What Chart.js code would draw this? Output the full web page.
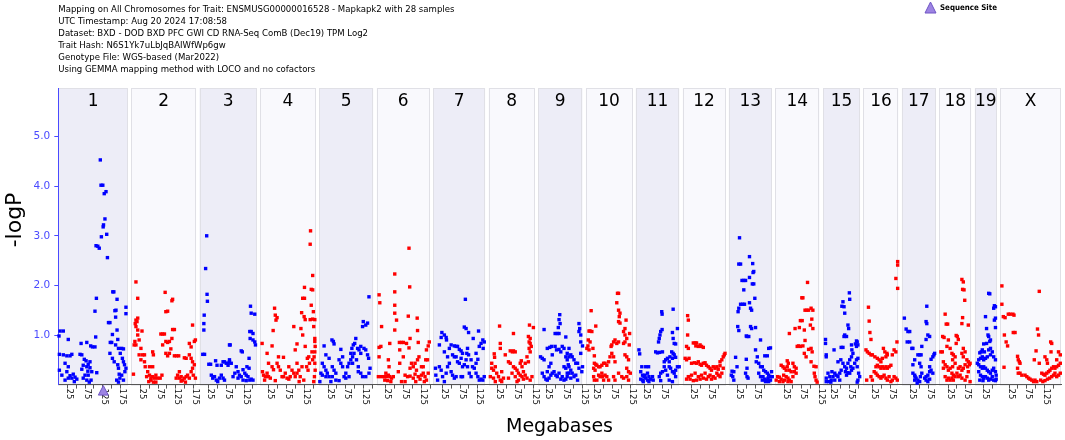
<!DOCTYPE html>
<html>
<head>
<meta charset="utf-8">
<script src="https://cdn.jsdelivr.net/npm/chart.js@4.4.1/dist/chart.umd.min.js"></script>
<style>
html,body{margin:0;padding:0;background:#fff;}
#c{display:block;}
</style>
</head>
<body>
<canvas id="c" width="1065" height="440" style="width:1065px;height:440px"></canvas>
<script>
// ---------------- DATA ----------------
const titleLines = [
  'Mapping on All Chromosomes for Trait: ENSMUSG00000016528 - Mapkapk2 with 28 samples',
  'UTC Timestamp: Aug 20 2024 17:08:58',
  'Dataset: BXD - DOD BXD PFC GWI CD RNA-Seq ComB (Dec19) TPM Log2',
  'Trait Hash: N6S1Yk7uLbJqBAIWfWp6gw',
  'Genotype File: WGS-based (Mar2022)',
  'Using GEMMA mapping method with LOCO and no cofactors'
];
const legendLabel = 'Sequence Site';
const chrNames = ['1','2','3','4','5','6','7','8','9','10','11','12','13','14','15','16','17','18','19','X'];
const chrLengthsMb = [195.47,182.11,160.04,156.51,151.83,149.74,145.44,129.40,124.60,130.69,122.08,120.13,120.42,124.90,104.04,98.21,94.99,90.70,61.43,171.03];
const tickStepMb = 25;
const labelledTicksMb = [25,75,125,175];
const yTickValues = [1,2,3,4,5];
const seqSiteChr = 0;
const seqSiteMb = 126.5;

// [position in Mb, -logP]
const chr1 = [[118,4.53],[120,4.02],[125,4.02],[129,3.85],[134,3.89],[131,3.34],[127,3.22],[126,3.18],[121,2.98],[136,3.03],[106,2.80],[111,2.79],[115,2.75],[138,2.56],[107,1.74],[103,1.48],[105,0.96],[153,1.87],[156,1.87],[165,1.72],[159,1.49],[162,1.50],[161,1.36],[141,1.25],[145,1.25],[190,1.56],[190,1.43],[165,1.10],[152,1.01],[146,0.85],[150,0.85],[167,0.91],[161,0.80],[169,0.73],[178,0.73],[183,0.72],[145,0.63],[152,0.53],[174,0.63],[180,0.53],[183,0.46],[186,0.40],[167,0.40],[169,0.33],[171,0.21],[173,0.13],[178,0.19],[183,0.09],[187,0.26],[190,0.33],[164,0.09],[169,0.05],[157,0.46],[2,0.98],[5,1.08],[14,1.08],[28,0.91],[3,0.61],[14,0.60],[24,0.58],[33,0.58],[38,0.61],[19,0.43],[28,0.36],[3,0.29],[24,0.26],[33,0.18],[42,0.21],[47,0.15],[52,0.11],[28,0.13],[10,0.19],[19,0.09],[38,0.13],[45,0.06],[64,0.83],[80,0.85],[91,0.78],[96,0.76],[103,0.76],[61,0.61],[66,0.60],[73,0.51],[78,0.48],[84,0.41],[89,0.46],[70,0.39],[80,0.36],[89,0.34],[83,0.27],[75,0.19],[84,0.19],[94,0.26],[92,0.09],[70,0.13],[80,0.09],[108,0.24],[87,0.05],[66,0.31]];
const chr2 = [[13,2.07],[18,1.74],[13,1.30],[16,1.27],[18,1.34],[11,1.23],[13,1.17],[18,1.10],[30,1.08],[8,0.80],[13,0.80],[18,1.00],[22,0.90],[10,0.87],[27,0.73],[32,0.60],[37,0.60],[27,0.50],[37,0.46],[6,0.21],[22,0.60],[39,0.36],[51,0.36],[60,0.36],[46,0.26],[51,0.19],[55,0.13],[60,0.16],[65,0.13],[69,0.19],[74,0.13],[49,0.06],[55,0.09],[62,0.05],[69,0.05],[43,0.16],[60,0.66],[62,0.60],[95,1.86],[97,1.47],[102,1.48],[114,1.69],[116,1.72],[83,1.02],[88,1.02],[93,1.02],[116,1.11],[121,1.11],[114,0.93],[97,0.87],[102,0.85],[107,0.87],[111,0.72],[107,0.63],[97,0.63],[102,0.58],[121,0.58],[127,0.58],[133,0.58],[149,0.54],[154,0.53],[135,0.26],[126,0.13],[130,0.19],[135,0.13],[140,0.16],[144,0.09],[149,0.13],[154,0.16],[140,0.07],[152,0.05],[172,1.20],[180,0.90],[177,0.87],[163,0.83],[168,0.76],[163,0.60],[168,0.53],[172,0.46],[177,0.40],[172,0.33],[168,0.26],[174,0.19],[180,0.13],[163,0.13],[158,0.19],[88,0.80],[81,0.13],[86,0.19]];
const chr3 = [[20,3.00],[17,2.34],[21,1.82],[22,1.68],[13,1.40],[12,1.23],[12,1.10],[9,0.61],[14,0.61],[26,0.41],[31,0.41],[33,0.19],[37,0.13],[42,0.16],[47,0.09],[51,0.06],[56,0.13],[61,0.19],[66,0.13],[70,0.09],[61,0.39],[66,0.46],[70,0.46],[75,0.43],[80,0.39],[84,0.46],[84,0.80],[45,0.48],[49,0.39],[143,1.58],[155,1.42],[145,1.44],[141,1.07],[145,1.07],[150,1.03],[142,0.93],[150,0.90],[155,0.86],[157,0.80],[86,0.80],[120,0.66],[117,0.68],[89,0.43],[80,0.43],[139,0.53],[103,0.36],[108,0.26],[112,0.19],[117,0.16],[122,0.30],[127,0.23],[131,0.19],[136,0.16],[108,0.13],[122,0.09],[131,0.08],[141,0.09],[145,0.11],[150,0.09],[99,0.23],[94,0.16],[84,0.50],[133,0.36],[139,0.33]];
const chr4 = [[142,3.10],[141,2.83],[148,2.20],[125,1.96],[144,1.92],[148,1.91],[120,1.74],[125,1.74],[144,1.60],[117,1.45],[124,1.37],[127,1.31],[141,1.31],[148,1.32],[154,1.31],[150,1.47],[151,1.17],[95,1.17],[115,1.13],[120,1.00],[104,0.82],[99,0.70],[127,0.77],[154,0.93],[154,0.87],[155,0.77],[154,0.66],[152,0.56],[154,0.43],[155,0.29],[153,0.16],[151,0.06],[133,0.53],[137,0.56],[131,0.36],[135,0.29],[139,0.43],[146,0.66],[148,0.50],[41,1.54],[43,1.40],[45,1.30],[48,1.35],[37,1.09],[34,0.78],[20,0.63],[6,0.83],[24,0.43],[34,0.36],[38,0.30],[48,0.43],[52,0.36],[57,0.29],[62,0.16],[66,0.16],[71,0.23],[76,0.13],[81,0.11],[85,0.16],[90,0.29],[95,0.23],[99,0.16],[104,0.23],[109,0.29],[113,0.16],[7,0.26],[10,0.19],[15,0.16],[20,0.23],[24,0.16],[29,0.13],[52,0.56],[66,0.55],[81,0.36],[104,0.43],[13,0.09],[43,0.08],[118,0.36],[123,0.09],[110,0.06]];
const chr5 = [[14,0.78],[36,0.90],[40,0.87],[42,0.82],[61,0.71],[19,0.60],[28,0.53],[9,0.43],[14,0.36],[19,0.29],[23,0.23],[28,0.16],[19,0.16],[9,0.19],[5,0.23],[37,0.36],[42,0.29],[47,0.23],[37,0.16],[47,0.09],[56,0.50],[61,0.43],[66,0.36],[70,0.16],[75,0.23],[80,0.36],[84,0.43],[89,0.50],[94,0.56],[98,0.63],[89,0.63],[92,0.73],[96,0.80],[103,0.93],[100,0.83],[108,0.73],[112,0.70],[117,0.63],[117,0.77],[122,1.17],[124,1.27],[131,1.20],[136,1.24],[140,1.77],[126,0.73],[131,0.70],[136,0.60],[139,0.53],[143,0.33],[140,0.23],[131,0.16],[122,0.16],[117,0.23],[110,0.26],[94,0.43],[84,0.16],[75,0.13],[2,0.06],[33,0.06],[56,0.08],[66,0.56],[105,0.50],[110,0.36]];
const chr6 = [[7,1.81],[9,1.65],[14,1.17],[12,0.77],[7,0.75],[7,0.56],[37,0.83],[33,0.50],[35,0.36],[26,0.23],[22,0.16],[28,0.16],[33,0.19],[37,0.16],[42,0.13],[47,0.16],[5,0.16],[14,0.16],[23,0.09],[31,0.08],[40,0.06],[51,2.23],[51,1.87],[51,1.60],[51,1.44],[56,1.30],[51,1.10],[91,2.75],[93,1.97],[89,1.38],[114,1.34],[115,1.09],[94,0.93],[91,0.74],[84,0.83],[75,0.85],[70,0.85],[64,0.85],[65,0.70],[117,0.85],[148,0.86],[145,0.78],[140,0.70],[119,0.56],[115,0.50],[108,0.43],[103,0.36],[98,0.43],[94,0.33],[87,0.16],[80,0.19],[75,0.56],[65,0.43],[61,0.26],[80,0.06],[94,0.17],[103,0.13],[108,0.21],[112,0.29],[117,0.16],[122,0.11],[126,0.19],[131,0.23],[136,0.16],[140,0.09],[145,0.23],[138,0.50],[143,0.50],[131,0.36],[126,0.36],[70,0.06],[110,0.06],[134,0.06]];
const chr7 = [[90,1.72],[87,1.16],[92,1.13],[24,1.05],[31,1.00],[22,0.95],[36,0.95],[37,0.90],[127,1.08],[99,1.05],[112,0.93],[139,0.90],[143,0.86],[140,0.73],[134,0.83],[129,0.77],[64,0.77],[68,0.77],[59,0.78],[73,0.71],[78,0.68],[45,0.73],[50,0.80],[17,0.80],[31,0.66],[40,0.56],[54,0.60],[59,0.56],[64,0.56],[68,0.46],[73,0.43],[78,0.53],[82,0.36],[87,0.40],[92,0.50],[96,0.36],[101,0.23],[106,0.16],[110,0.36],[115,0.33],[120,0.23],[125,0.16],[129,0.09],[134,0.11],[120,0.43],[125,0.51],[106,0.50],[99,0.60],[94,0.63],[82,0.63],[96,0.73],[120,0.63],[6,0.33],[7,0.19],[12,0.09],[17,0.36],[22,0.29],[26,0.16],[36,0.23],[40,0.36],[45,0.43],[50,0.26],[54,0.19],[59,0.13],[64,0.16],[78,0.16],[82,0.16],[31,0.06],[139,0.09],[143,0.16]];
const chr8 = [[31,1.18],[70,1.03],[67,0.66],[47,0.60],[61,0.68],[70,0.68],[75,0.66],[16,0.62],[17,0.55],[33,0.83],[33,0.73],[115,1.20],[126,1.15],[112,0.97],[117,0.93],[114,0.86],[117,0.83],[120,0.77],[114,0.73],[117,0.66],[108,0.56],[112,0.46],[56,0.46],[61,0.43],[9,0.43],[9,0.33],[14,0.29],[19,0.36],[23,0.23],[28,0.16],[33,0.09],[37,0.06],[42,0.13],[37,0.26],[5,0.16],[14,0.13],[19,0.06],[70,0.36],[75,0.33],[80,0.29],[84,0.23],[89,0.19],[94,0.16],[98,0.11],[75,0.16],[80,0.06],[84,0.09],[89,0.43],[94,0.36],[98,0.26],[103,0.19],[108,0.13],[117,0.09],[122,0.16],[92,0.48],[103,0.43],[66,0.23],[56,0.13]];
const chr9 = [[17,1.11],[7,0.56],[12,0.53],[17,0.50],[26,0.73],[33,0.75],[38,0.77],[40,0.60],[36,0.43],[31,0.36],[26,0.26],[48,1.03],[54,1.03],[59,1.03],[57,1.15],[62,1.23],[59,1.31],[61,1.41],[48,0.77],[52,0.70],[59,0.71],[64,0.66],[68,0.77],[73,0.73],[78,0.56],[82,0.50],[87,0.56],[85,0.40],[78,0.33],[73,0.36],[12,0.23],[17,0.16],[22,0.11],[26,0.09],[31,0.13],[36,0.19],[40,0.23],[45,0.26],[50,0.19],[54,0.16],[59,0.23],[64,0.11],[68,0.16],[73,0.09],[78,0.11],[82,0.16],[87,0.23],[115,1.23],[117,1.13],[120,1.00],[115,1.07],[120,0.86],[125,0.78],[120,0.63],[111,0.43],[115,0.33],[125,0.36],[123,0.26],[87,0.73],[82,0.63],[92,0.60],[96,0.56],[101,0.50],[106,0.43],[87,0.36],[92,0.29],[96,0.23],[101,0.16],[106,0.19],[111,0.09],[82,0.23],[92,0.13],[78,0.96]];
const chr10 = [[15,1.49],[28,1.18],[9,1.08],[12,1.08],[17,1.07],[7,0.90],[12,0.86],[6,0.78],[3,0.73],[9,0.70],[20,0.73],[24,0.58],[24,0.43],[28,0.41],[31,0.39],[36,0.36],[40,0.36],[45,0.39],[50,0.43],[54,0.43],[59,0.39],[64,0.46],[22,0.33],[26,0.29],[36,0.19],[40,0.16],[45,0.23],[47,0.16],[22,0.16],[24,0.09],[31,0.09],[54,0.19],[59,0.16],[64,0.09],[50,0.09],[89,1.84],[92,1.84],[87,1.65],[92,1.50],[96,1.44],[94,1.37],[113,1.30],[110,1.13],[92,1.27],[96,1.24],[106,1.07],[110,1.00],[115,0.93],[82,0.90],[78,0.86],[87,0.83],[92,0.86],[106,0.83],[110,0.86],[73,0.80],[71,0.77],[73,0.63],[78,0.56],[68,0.56],[82,0.46],[110,0.60],[115,0.56],[120,0.50],[92,0.23],[115,0.33],[120,0.26],[125,0.23],[115,0.16],[120,0.09],[106,0.13],[123,1.03],[122,0.80],[78,0.16],[82,0.09],[101,0.16]];
const chr11 = [[9,0.70],[11,0.62],[17,0.36],[28,0.36],[36,0.36],[14,0.26],[19,0.19],[23,0.16],[28,0.13],[33,0.09],[37,0.16],[42,0.11],[47,0.16],[19,0.09],[33,0.23],[26,0.19],[14,0.11],[21,0.06],[37,0.06],[49,0.09],[73,1.47],[74,1.42],[105,1.52],[74,1.11],[70,1.07],[68,1.00],[66,0.93],[64,0.86],[56,0.66],[61,0.64],[67,0.65],[75,0.66],[103,1.05],[105,0.93],[117,1.13],[108,0.83],[112,0.82],[101,0.66],[105,0.63],[108,0.60],[112,0.55],[103,0.53],[96,0.56],[89,0.53],[84,0.50],[80,0.46],[94,0.46],[80,0.36],[84,0.29],[94,0.36],[98,0.33],[103,0.26],[108,0.23],[112,0.29],[117,0.36],[122,0.36],[89,0.19],[75,0.26],[70,0.23],[66,0.16],[94,0.09],[103,0.06],[112,0.16],[70,0.08]];
const chr12 = [[14,1.39],[16,1.30],[14,1.00],[11,0.77],[16,0.73],[30,0.84],[35,0.84],[39,0.84],[37,0.78],[44,0.77],[49,0.80],[53,0.77],[58,0.75],[7,0.53],[11,0.50],[18,0.53],[25,0.43],[33,0.44],[39,0.43],[44,0.46],[49,0.41],[53,0.39],[58,0.43],[63,0.44],[67,0.39],[72,0.36],[77,0.33],[81,0.29],[86,0.36],[91,0.33],[96,0.36],[100,0.31],[105,0.38],[110,0.50],[114,0.56],[119,0.63],[117,0.60],[105,0.46],[96,0.23],[100,0.19],[86,0.16],[81,0.11],[72,0.16],[63,0.23],[53,0.19],[44,0.16],[35,0.23],[25,0.19],[16,0.16],[11,0.11],[21,0.11],[30,0.08],[39,0.09],[49,0.11],[58,0.13],[67,0.11],[77,0.19],[91,0.13],[105,0.16],[110,0.23],[114,0.33]];
const chr13 = [[30,2.96],[28,2.43],[33,2.43],[58,2.58],[67,2.44],[70,2.28],[68,2.26],[58,2.16],[37,2.10],[42,2.10],[47,2.10],[66,2.03],[70,2.03],[42,1.91],[73,1.74],[33,1.62],[39,1.62],[44,1.62],[58,1.65],[28,1.54],[26,1.47],[64,1.50],[61,1.54],[25,1.17],[28,1.09],[61,1.17],[64,1.13],[75,1.15],[49,0.98],[51,0.97],[56,0.97],[89,0.90],[117,0.74],[75,0.70],[80,0.56],[77,0.46],[101,0.58],[108,0.58],[112,0.73],[84,0.43],[89,0.36],[94,0.36],[98,0.29],[103,0.26],[108,0.23],[112,0.19],[117,0.16],[96,0.16],[101,0.11],[108,0.09],[112,0.06],[117,0.09],[122,0.16],[120,0.26],[84,0.23],[89,0.16],[94,0.09],[103,0.06],[110,0.13],[19,0.55],[23,0.36],[9,0.27],[14,0.26],[7,0.19],[11,0.16],[14,0.09],[49,0.51],[51,0.33],[47,0.23],[51,0.16],[54,0.13]];
const chr14 = [[91,2.06],[75,1.75],[78,1.75],[84,1.50],[89,1.50],[94,1.50],[101,1.54],[106,1.50],[103,1.32],[71,1.29],[76,1.29],[56,1.13],[40,1.03],[68,1.15],[82,1.10],[99,1.20],[106,1.13],[84,0.89],[62,0.77],[66,0.78],[71,0.77],[78,0.78],[94,0.71],[101,0.73],[104,0.66],[82,0.63],[87,0.56],[101,0.46],[109,0.37],[115,0.36],[110,0.23],[112,0.16],[115,0.09],[118,0.05],[34,0.48],[37,0.43],[34,0.36],[50,0.43],[54,0.36],[59,0.33],[40,0.29],[45,0.26],[54,0.26],[59,0.23],[17,0.39],[22,0.36],[26,0.33],[31,0.29],[24,0.19],[31,0.16],[36,0.13],[40,0.09],[45,0.06],[50,0.16],[7,0.16],[12,0.15],[17,0.11],[22,0.06],[3,0.09],[12,0.06],[26,0.09],[36,0.06]];
const chr15 = [[74,1.85],[75,1.72],[56,1.67],[53,1.58],[59,1.57],[61,1.44],[70,1.20],[72,1.13],[61,1.00],[59,0.97],[66,0.97],[51,0.75],[56,0.75],[7,0.91],[7,0.83],[31,0.70],[9,0.60],[9,0.56],[42,0.46],[50,0.50],[94,0.88],[96,0.86],[98,0.80],[94,0.77],[91,0.82],[80,0.80],[81,0.70],[84,0.63],[80,0.56],[75,0.50],[70,0.43],[78,0.36],[84,0.33],[80,0.29],[75,0.23],[89,0.43],[94,0.50],[98,0.53],[96,0.36],[100,0.23],[103,0.16],[98,0.09],[96,0.05],[14,0.23],[19,0.16],[23,0.09],[16,0.06],[22,0.05],[28,0.16],[33,0.23],[37,0.19],[42,0.16],[47,0.23],[51,0.29],[47,0.09],[33,0.09],[25,0.26],[9,0.13],[9,0.06],[61,0.36],[66,0.33],[56,0.43],[70,0.24],[66,0.19],[63,0.26]];
const chr16 = [[14,1.56],[16,1.28],[18,1.05],[21,0.91],[7,0.70],[11,0.66],[16,0.63],[21,0.60],[25,0.60],[32,0.56],[39,0.53],[44,0.50],[49,0.46],[35,0.36],[39,0.39],[44,0.36],[49,0.33],[53,0.36],[58,0.33],[63,0.36],[67,0.33],[72,0.36],[77,0.39],[30,0.26],[35,0.23],[39,0.19],[44,0.16],[49,0.13],[53,0.16],[58,0.19],[63,0.13],[67,0.09],[72,0.16],[77,0.06],[81,0.09],[86,0.16],[91,0.13],[95,0.09],[56,0.73],[60,0.66],[66,0.63],[63,0.56],[53,0.53],[67,0.60],[86,0.70],[91,0.66],[81,0.60],[94,0.86],[96,2.48],[96,2.41],[91,2.14],[96,1.94],[9,0.09],[21,0.16],[25,0.09]];
const chr17 = [[7,1.34],[12,1.12],[17,1.07],[22,1.07],[15,0.86],[22,0.86],[28,0.73],[31,0.73],[70,1.58],[68,1.27],[70,1.23],[73,1.00],[78,0.97],[68,0.91],[56,0.77],[50,0.60],[54,0.60],[45,0.60],[92,0.63],[90,0.60],[87,0.56],[82,0.51],[50,0.43],[54,0.36],[36,0.50],[31,0.40],[78,0.36],[82,0.29],[87,0.23],[78,0.26],[73,0.19],[68,0.16],[64,0.13],[68,0.09],[73,0.06],[78,0.11],[36,0.19],[37,0.16],[40,0.13],[45,0.09],[50,0.06],[43,0.03],[31,0.23],[36,0.09],[52,0.16],[56,0.23]];
const chr18 = [[64,2.12],[68,2.07],[66,1.92],[70,1.91],[72,1.70],[17,1.42],[20,1.22],[24,1.22],[66,1.35],[82,1.20],[64,1.23],[10,0.97],[14,0.95],[48,0.99],[51,0.97],[54,0.91],[48,0.83],[5,0.66],[9,0.66],[26,0.90],[22,0.77],[31,0.73],[36,0.63],[40,0.60],[45,0.56],[38,0.50],[45,0.43],[38,0.36],[68,0.73],[73,0.66],[64,0.63],[68,0.56],[78,0.50],[82,0.46],[85,0.40],[80,0.36],[87,0.43],[12,0.46],[17,0.40],[12,0.33],[22,0.36],[26,0.29],[31,0.33],[36,0.23],[40,0.19],[45,0.16],[54,0.33],[59,0.36],[64,0.29],[68,0.33],[73,0.40],[50,0.23],[54,0.16],[59,0.19],[64,0.13],[31,0.09],[36,0.13],[40,0.09],[26,0.13],[17,0.16],[22,0.09],[78,0.16],[82,0.26],[87,0.06],[73,0.09]];
const chr19 = [[39,1.84],[42,1.83],[55,1.59],[58,1.57],[53,1.54],[30,1.37],[58,1.34],[55,1.30],[58,1.15],[33,1.13],[37,1.00],[39,0.97],[44,0.90],[42,0.87],[33,0.83],[25,0.82],[21,0.70],[18,0.66],[14,0.64],[27,0.66],[39,0.70],[44,0.73],[49,0.66],[11,0.50],[16,0.53],[21,0.56],[25,0.50],[30,0.53],[35,0.56],[44,0.60],[53,0.56],[58,0.50],[7,0.43],[11,0.40],[16,0.36],[21,0.33],[25,0.36],[30,0.33],[35,0.29],[39,0.26],[44,0.23],[49,0.29],[53,0.33],[58,0.26],[60,0.19],[11,0.26],[16,0.19],[21,0.16],[25,0.13],[30,0.16],[35,0.13],[39,0.09],[44,0.11],[49,0.16],[53,0.09],[58,0.08],[60,0.11],[14,0.09],[23,0.08]];
const chrX = [[5,1.99],[5,1.62],[9,1.37],[14,1.35],[23,1.42],[28,1.42],[36,1.42],[39,1.40],[12,1.00],[17,0.86],[21,0.78],[11,0.35],[37,1.05],[42,1.05],[49,0.57],[51,0.50],[54,0.46],[56,0.43],[49,0.33],[51,0.23],[56,0.23],[61,0.19],[70,0.19],[75,0.16],[80,0.13],[84,0.11],[89,0.09],[94,0.06],[98,0.09],[103,0.06],[110,1.88],[105,1.12],[108,1.00],[101,0.68],[96,0.50],[110,0.43],[126,0.56],[131,0.50],[133,0.43],[117,0.23],[122,0.21],[126,0.19],[131,0.23],[136,0.26],[140,0.29],[145,0.33],[150,0.36],[154,0.33],[159,0.36],[164,0.39],[169,0.43],[114,0.09],[120,0.06],[126,0.08],[133,0.11],[139,0.13],[145,0.16],[150,0.19],[154,0.23],[159,0.16],[164,0.19],[169,0.23],[142,0.86],[145,0.83],[143,0.66],[164,0.66],[169,0.60],[159,0.50]];

const chrPoints = [chr1,chr2,chr3,chr4,chr5,chr6,chr7,chr8,chr9,chr10,chr11,chr12,chr13,chr14,chr15,chr16,chr17,chr18,chr19,chrX];

// ---------------- LAYOUT / STYLE ----------------
const GAP_MB = 9.6;
const chrOffsets = [];
{ let acc = 0; chrLengthsMb.forEach(l => { chrOffsets.push(acc); acc += l + GAP_MB; }); }
const totalMb = chrOffsets[chrOffsets.length-1] + chrLengthsMb[chrLengthsMb.length-1];

const xTicks = [];
const xLabelTicks = [];
chrLengthsMb.forEach((len, i) => {
  for (let v = tickStepMb; v <= len + 0.5; v += tickStepMb) {
    xTicks.push(chrOffsets[i] + v);
    if (labelledTicksMb.includes(v)) xLabelTicks.push({pos: chrOffsets[i] + v, text: String(v)});
  }
});

const BLUE = '#0000ff', RED = '#ff0000', AXISBLUE = '#4a4aff';
const FONT = '"DejaVu Sans", Verdana, sans-serif';
const FONT_NARROW = '"DejaVu Sans Condensed", "DejaVu Sans", sans-serif';

const datasets = chrPoints.map((pts, i) => ({
  label: chrNames[i],
  data: pts.map(([mb, v]) => ({x: chrOffsets[i] + mb, y: v})),
  backgroundColor: i % 2 === 0 ? BLUE : RED,
  borderWidth: 0,
  pointStyle: 'rect',
  pointRadius: 2.4,
  clip: false
}));

function fitSize(ctx, text, weight, family, width) {
  ctx.font = `${weight} 100px ${family}`;
  return 100 * width / ctx.measureText(text).width;
}

const decor = {
  id: 'decor',
  beforeDraw(chart) {
    const {ctx, chartArea: a, scales: {x}} = chart;
    ctx.save();
    chrNames.forEach((n, i) => {
      const x0 = x.getPixelForValue(chrOffsets[i]);
      const x1 = x.getPixelForValue(chrOffsets[i] + chrLengthsMb[i]);
      ctx.fillStyle = i % 2 === 0 ? '#ededf7' : '#f9f9fd';
      ctx.fillRect(x0, a.top, x1 - x0, a.bottom - a.top);
      ctx.strokeStyle = '#e0e0e6';
      ctx.lineWidth = 1;
      ctx.strokeRect(Math.round(x0) + 0.5, a.top + 0.5, Math.round(x1 - x0) - 1, a.bottom - a.top);
    });
    ctx.restore();
  },
  afterDraw(chart) {
    const {ctx, chartArea: a, scales: {x, y}} = chart;
    ctx.save();
    // title block
    const tSize = Math.min(11, fitSize(ctx, titleLines[2], 'normal', FONT_NARROW, 310));
    ctx.font = `normal ${tSize}px ${FONT_NARROW}`;
    ctx.fillStyle = '#000';
    ctx.textAlign = 'left';
    ctx.textBaseline = 'middle';
    titleLines.forEach((t, i) => ctx.fillText(t, 58.3, 9.5 + 12 * i));

    // legend
    ctx.fillStyle = '#9d84e3';
    ctx.strokeStyle = '#6f55c4';
    ctx.lineWidth = 1;
    ctx.beginPath();
    ctx.moveTo(930.5, 2); ctx.lineTo(936, 13); ctx.lineTo(925, 13); ctx.closePath();
    ctx.fill(); ctx.stroke();
    const lSize = Math.min(10, fitSize(ctx, legendLabel, 'bold', FONT_NARROW, 57));
    ctx.font = `bold ${lSize}px ${FONT_NARROW}`;
    ctx.fillStyle = '#000';
    ctx.fillText(legendLabel, 940, 7.5);

    // chromosome labels
    ctx.font = `normal 17px ${FONT}`;
    ctx.textAlign = 'center';
    chrNames.forEach((n, i) => {
      const cx = x.getPixelForValue(chrOffsets[i] + chrLengthsMb[i] / 2);
      ctx.fillText(n, cx, 102);
    });

    // x tick labels (rotated clockwise)
    ctx.font = `normal 9.5px ${FONT_NARROW}`;
    ctx.textAlign = 'left';
    ctx.textBaseline = 'alphabetic';
    ctx.fillStyle = '#111';
    xLabelTicks.forEach(t => {
      const px = x.getPixelForValue(t.pos);
      ctx.save();
      ctx.translate(px - 0.5, a.bottom + 4);
      ctx.rotate(Math.PI / 2);
      ctx.fillText(t.text, 0, 0);
      ctx.restore();
    });

    // sequence site marker
    const sx = x.getPixelForValue(chrOffsets[seqSiteChr] + seqSiteMb);
    ctx.fillStyle = '#9d84e3';
    ctx.strokeStyle = '#6f55c4';
    ctx.beginPath();
    ctx.moveTo(sx, a.bottom + 1); ctx.lineTo(sx + 5, a.bottom + 10.5); ctx.lineTo(sx - 5, a.bottom + 10.5); ctx.closePath();
    ctx.fill(); ctx.stroke();

    // axis titles
    ctx.fillStyle = '#000';
    ctx.font = `normal 19px ${FONT}`;
    ctx.textAlign = 'center';
    ctx.textBaseline = 'middle';
    ctx.fillText('Megabases', 559.5, 427);
    ctx.save();
    ctx.translate(15, 220);
    ctx.rotate(-Math.PI / 2);
    ctx.font = `normal 22px ${FONT}`;
    ctx.fillText('-logP', 0, 0);
    ctx.restore();
    ctx.restore();
  }
};

new Chart(document.getElementById('c'), {
  type: 'scatter',
  data: {datasets},
  options: {
    responsive: false,
    animation: false,
    devicePixelRatio: 1,
    events: [],
    layout: {padding: {top: 88, left: 0, right: 2.7, bottom: 0}},
    plugins: {legend: {display: false}, tooltip: {enabled: false}, title: {display: false}},
    scales: {
      x: {
        type: 'linear',
        min: 0,
        max: totalMb,
        afterBuildTicks: s => { s.ticks = xTicks.map(v => ({value: v})); },
        afterFit: s => { s.height = 55.4; },
        ticks: {display: false},
        grid: {drawOnChartArea: false, drawTicks: true, tickLength: 4, color: '#555'},
        border: {color: '#555', width: 1}
      },
      y: {
        min: 0,
        max: 5.98,
        afterBuildTicks: s => { s.ticks = yTickValues.map(v => ({value: v})); },
        afterFit: s => { s.width = 58.3; },
        ticks: {
          color: AXISBLUE,
          padding: 4,
          font: {family: FONT, size: 10.5},
          callback: v => Number(v).toFixed(1)
        },
        grid: {drawOnChartArea: false, drawTicks: true, tickLength: 4, color: AXISBLUE},
        border: {color: AXISBLUE, width: 1}
      }
    }
  },
  plugins: [decor]
});
</script>
</body>
</html>
